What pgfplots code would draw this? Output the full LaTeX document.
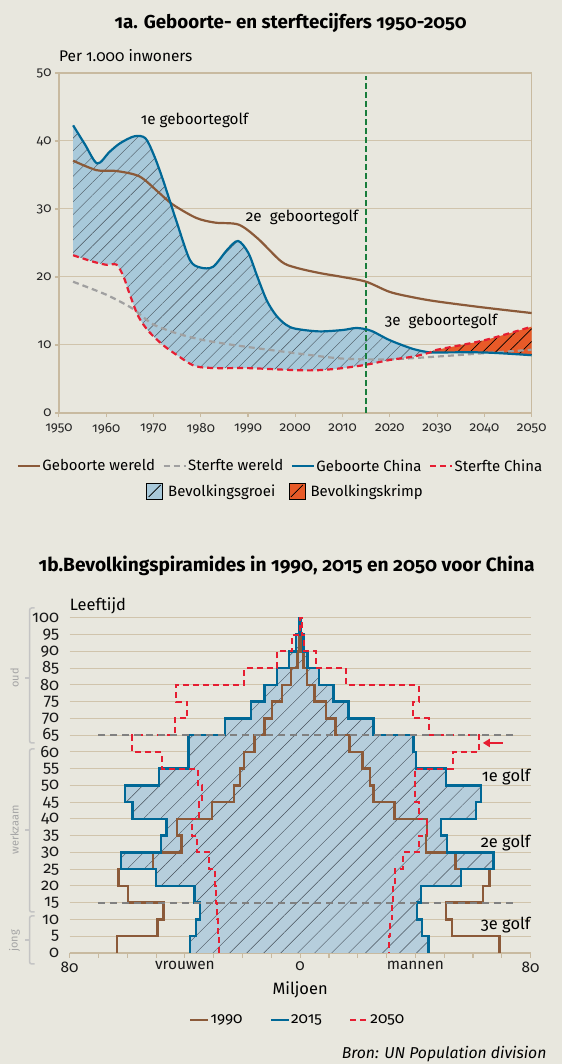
\documentclass[border=0pt]{standalone}
\usepackage{fontspec}
\setmainfont{Fira Sans}[Numbers=OldStyle]
\usepackage{pgfplots}
\pgfplotsset{compat=1.18}
\usepackage{pgfplotstable}
\usepgfplotslibrary{fillbetween}
\usetikzlibrary{patterns.meta,arrows.meta}

\definecolor{bg}{RGB}{232,231,222}
\definecolor{tanc}{RGB}{200,186,160}
\definecolor{gridc}{RGB}{208,196,172}
\definecolor{brownc}{RGB}{139,90,57}
\definecolor{bluec}{RGB}{0,104,150}
\definecolor{redc}{RGB}{230,30,50}
\definecolor{grayc}{RGB}{160,160,160}
\definecolor{greenc}{RGB}{25,125,60}
\definecolor{fillA}{RGB}{168,201,218}
\definecolor{fillB}{RGB}{182,206,220}
\definecolor{orangec}{RGB}{232,90,40}
\definecolor{hatchc}{RGB}{70,80,90}
\definecolor{dashgray}{RGB}{128,128,128}
\definecolor{brack}{RGB}{196,196,196}
\definecolor{bracktxt}{RGB}{165,165,165}

\pgfplotstableread{
x y
1953 37.1
1958 35.7
1962 35.6
1967 34.8
1971 32.5
1974 30.7
1979 28.7
1983 28.0
1988 27.7
1992 25.7
1997 22.3
2000 21.4
2005 20.6
2010 20.0
2015 19.3
2020 17.8
2025 17.0
2030 16.4
2040 15.5
2050 14.7
}\gebw

\pgfplotstableread{
x y
1953 19.3
1960 17.4
1965 15.6
1967 14.6
1970 13.0
1975 11.7
1980 10.8
1985 10.2
1990 9.7
2000 8.8
2010 8.0
2020 7.9
2030 8.3
2040 8.8
2050 9.3
}\sterw

\pgfplotstableread{
x y
1953.0 42.3
1955.5 39.5
1958.1 36.7
1960.7 38.4
1963.0 39.7
1966.0 40.7
1968.3 40.4
1970.1 37.9
1972.0 34.3
1975.0 27.9
1977.7 22.5
1979.9 21.4
1982.6 21.5
1985.6 24.0
1987.9 25.3
1990.1 23.5
1992 20.0
1994 16.5
1996 14.3
1998 13.0
2000 12.4
2005 12.0
2010 12.2
2013 12.5
2016 12.1
2020 10.7
2025 9.4
2028.5 8.9
2030 8.9
2040 8.9
2050 8.5
}\gebc

\pgfplotstableread{
x y
1953 23.2
1957 22.3
1960 21.8
1962.2 21.8
1963.7 20.0
1964.9 17.6
1966.8 14.2
1969.0 12.0
1972.0 10.0
1975.0 8.5
1978.8 6.9
1983.3 6.6
1990 6.6
2000 6.3
2005 6.3
2010 6.6
2015 7.1
2020 7.8
2025 8.3
2028.5 8.9
2030 9.3
2040 10.7
2050 12.7
}\stc

\begin{document}
\pagecolor{bg}
\begin{tikzpicture}

% ---------------- titles ----------------
\node[font=\fontsize{18.8}{21}\selectfont\bfseries] at (288bp,1041bp) {1a. Geboorte- en sterftecijfers 1950-2050};
\node[font=\fontsize{19.2}{21}\selectfont\bfseries] at (284bp,498bp) {1b.Bevolkingspiramides in 1990, 2015 en 2050 voor China};

% ---------------- chart 1a ----------------
\begin{axis}[
  at={(56.3bp,651bp)}, anchor=south west,
  scale only axis, width=472.7bp, height=340bp,
  xmin=1950, xmax=2050, ymin=0, ymax=50,
  xtick={1950,1960,...,2050}, ytick={0,10,...,50},
  axis line style={draw=tanc, line width=1.3bp},
  tick style={draw=tanc, line width=1.1bp},
  tick align=outside, major tick length=4bp,
  xtick pos=lower, ytick pos=left,
  ymajorgrids, grid style={draw=gridc, line width=1bp},
  /pgf/number format/assume math mode=true,
  /pgf/number format/1000 sep={},
  tick label style={font=\fontsize{13.5}{14}\selectfont, text=black!85},
  xticklabel style={yshift=-3bp},
  ylabel={Per 1.000 inwoners},
  ylabel style={rotate=-90, at={(axis description cs:0,1)}, anchor=west, inner sep=0pt, yshift=17bp, font=\fontsize{15.5}{17}\selectfont},
  clip=false,
  legend columns=4,
  legend style={at={(axis description cs:0.5,0)}, anchor=center, yshift=-53bp, xshift=-15bp,
    draw=none, fill=none, font=\fontsize{15}{17}\selectfont,
    nodes={inner sep=1.5bp},
    /tikz/every even column/.append style={column sep=6bp}},
  legend image code/.code={\draw[#1, line width=2.2bp] (0bp,0bp) -- (22bp,0bp);},
]
\addplot[name path=GCa, draw=none, smooth, forget plot, restrict x to domain=1950:2028.5] table {\gebc};
\addplot[name path=SCa, draw=none, smooth, forget plot, restrict x to domain=1950:2028.5] table {\stc};
\addplot[name path=GCb, draw=none, smooth, forget plot, restrict x to domain=2028.5:2050] table {\gebc};
\addplot[name path=SCb, draw=none, smooth, forget plot, restrict x to domain=2028.5:2050] table {\stc};
\addplot[fill=fillA, draw=none, forget plot, postaction={pattern={Lines[angle=45,distance=9bp,line width=0.4bp]}, pattern color=hatchc}]
  fill between[of=GCa and SCa];
\addplot[fill=orangec, draw=none, forget plot, postaction={pattern={Lines[angle=45,distance=9bp,line width=0.6bp]}, pattern color=black}]
  fill between[of=SCb and GCb];

\addplot[greenc, line width=1.6bp, dash pattern=on 6bp off 3bp, forget plot] coordinates {(2015,0) (2015,49.5)};

\addplot[brownc, line width=2.2bp, smooth] table {\gebw};
\addlegendentry{Geboorte wereld}
\addplot[grayc, line width=2.2bp, dash pattern=on 6bp off 4bp, smooth] table {\sterw};
\addlegendentry{Sterfte wereld}
\addplot[bluec, line width=2.2bp, smooth] table {\gebc};
\addlegendentry{Geboorte China}
\addplot[redc, line width=2.2bp, dash pattern=on 6bp off 4bp, smooth] table {\stc};
\addlegendentry{Sterfte China}

\node[anchor=west, inner sep=0pt, font=\fontsize{15.3}{17}\selectfont] at (axis cs:1967.3,43.1) {1e geboortegolf};
\node[anchor=west, inner sep=0pt, font=\fontsize{15.3}{17}\selectfont] at (axis cs:1989.5,28.8) {2e\ \ geboortegolf};
\node[anchor=west, inner sep=0pt, font=\fontsize{15.3}{17}\selectfont] at (axis cs:2018.9,13.4) {3e\ \ geboortegolf};
\end{axis}

% legend row 2 of chart 1a
\begin{axis}[
  at={(56.3bp,651bp)}, anchor=south west,
  scale only axis, width=472.7bp, height=340bp,
  hide axis, xmin=0, xmax=1, ymin=0, ymax=1,
  legend columns=2,
  legend style={at={(axis description cs:0.5,0)}, anchor=center, yshift=-78bp, xshift=-10bp,
    draw=none, fill=none, font=\fontsize{15}{17}\selectfont,
    nodes={inner sep=1.5bp},
    /tikz/every even column/.append style={column sep=12bp}},
  legend image code/.code={\fill[#1] (0bp,-8bp) rectangle (16bp,8bp); \draw[black, line width=0.7bp] (2bp,-6bp) -- (14bp,6bp);},
]
\addlegendimage{fill=fillA}
\addlegendentry{\ Bevolkingsgroei}
\addlegendimage{fill=orangec}
\addlegendentry{\ Bevolkingskrimp}
\end{axis}

% ---------------- chart 1b ----------------
\begin{axis}[
  at={(67bp,111bp)}, anchor=south west,
  scale only axis, width=461bp, height=335bp,
  xmin=-80, xmax=80, ymin=0, ymax=100,
  axis x line*=bottom, axis y line*=left,
  x axis line style={-, draw=tanc, line width=1.3bp},
  y axis line style={draw=none},
  xtick={-80,-70,...,80},
  xticklabels={80,,,,vrouwen,,,,0,,,,mannen,,,,80},
  ytick={0,5,...,100},
  xtick style={draw=tanc, line width=1.1bp},
  ytick style={draw=none},
  tick align=outside, major tick length=5bp,
  ymajorgrids, grid style={draw=gridc, line width=1bp},
  /pgf/number format/assume math mode=true,
  xticklabel style={font=\fontsize{15.5}{16}\selectfont, text=black!90},
  yticklabel style={font=\fontsize{16.5}{17}\selectfont, text=black!90, xshift=-2bp},
  ylabel={Leeftijd},
  ylabel style={rotate=-90, at={(axis description cs:0,1)}, anchor=base west, inner sep=0pt, yshift=7bp, font=\fontsize{16.5}{18}\selectfont},
  xlabel={Miljoen},
  xlabel style={at={(axis description cs:0.5,0)}, anchor=center, yshift=-37bp, inner sep=0pt, font=\fontsize{16.5}{18}\selectfont},
  clip=false,
  legend columns=3,
  legend style={at={(axis description cs:0.5,0)}, anchor=center, yshift=-67bp, xshift=-3bp,
    draw=none, fill=none, font=\fontsize{15.5}{17}\selectfont,
    nodes={inner sep=1bp},
    /tikz/every even column/.append style={column sep=26bp}},
  legend image code/.code={\draw[#1, line width=2.5bp] (0bp,0bp) -- (18bp,0bp);},
]
% 2015 filled area
\addplot[fill=fillB, draw=none, forget plot, postaction={pattern={Lines[angle=45,distance=12bp,line width=0.45bp]}, pattern color=hatchc}] coordinates {
(-38.3,0)(-38.3,5)(-36.2,5)(-36.2,10)(-34.8,10)(-34.8,15)(-36.7,15)(-36.7,20)(-50.1,20)(-50.1,25)(-62.2,25)(-62.2,30)(-48.3,30)(-48.3,35)(-46.4,35)(-46.4,40)(-58.2,40)(-58.2,45)(-60.7,45)(-60.7,50)(-48.9,50)(-48.9,55)(-38.7,55)(-38.7,60)(-38.7,65)(-26.0,65)(-26.0,70)(-17.1,70)(-17.1,75)(-12.4,75)(-12.4,80)(-8.1,80)(-8.1,85)(-3.8,85)(-3.8,90)(-1.5,90)(-1.5,95)(-0.3,95)(-0.3,100)
(0.3,100)(0.3,95)(1.2,95)(1.2,90)(2.6,90)(2.6,85)(6.5,85)(6.5,80)(11.6,80)(11.6,75)(16.8,75)(16.8,70)(25.4,70)(25.4,65)(39.3,65)(39.3,60)(40.2,60)(40.2,55)(50.6,55)(50.6,50)(62.8,50)(62.8,45)(61.0,45)(61.0,40)(48.9,40)(48.9,35)(50.9,35)(50.9,30)(67.1,30)(67.1,25)(55.8,25)(55.8,20)(42.0,20)(42.0,15)(40.5,15)(40.5,10)(42.3,10)(42.3,5)(44.6,5)(44.6,0)
} -- cycle;

% 1990
\addplot[brownc, line width=2.5bp] coordinates {
(-63.6,0)(-63.6,5)(-49.5,5)(-49.5,10)(-47.4,10)(-47.4,15)(-59.8,15)(-59.8,20)(-63.0,20)(-63.0,25)(-51.0,25)(-51.0,30)(-41.1,30)(-41.1,35)(-42.8,35)(-42.8,40)(-30.6,40)(-30.6,45)(-22.9,45)(-22.9,50)(-20.9,50)(-20.9,55)(-19.4,55)(-19.4,60)(-15.9,60)(-15.9,65)(-12.4,65)(-12.4,70)(-9.8,70)(-9.8,75)(-6.3,75)(-6.3,80)(-3.2,80)(-3.2,85)(-0.9,85)(-0.9,90)(-0.3,90)(-0.3,95)(-0.1,95)(-0.1,100)
(0.1,100)(0.1,95)(0.3,95)(0.3,90)(1.1,90)(1.1,85)(2.3,85)(2.3,80)(4.9,80)(4.9,75)(9.0,75)(9.0,70)(12.2,70)(12.2,65)(17.1,65)(17.1,60)(21.6,60)(21.6,55)(24.2,55)(24.2,50)(25.4,50)(25.4,45)(32.7,45)(32.7,40)(44.0,40)(44.0,35)(43.7,35)(43.7,30)(53.9,30)(53.9,25)(65.7,25)(65.7,20)(63.4,20)(63.4,15)(50.6,15)(50.6,10)(52.7,10)(52.7,5)(69.2,5)(69.2,0)
};
\addlegendentry{1990}
% 2015
\addplot[bluec, line width=2.5bp] coordinates {
(-38.3,0)(-38.3,5)(-36.2,5)(-36.2,10)(-34.8,10)(-34.8,15)(-36.7,15)(-36.7,20)(-50.1,20)(-50.1,25)(-62.2,25)(-62.2,30)(-48.3,30)(-48.3,35)(-46.4,35)(-46.4,40)(-58.2,40)(-58.2,45)(-60.7,45)(-60.7,50)(-48.9,50)(-48.9,55)(-38.7,55)(-38.7,60)(-38.7,65)(-26.0,65)(-26.0,70)(-17.1,70)(-17.1,75)(-12.4,75)(-12.4,80)(-8.1,80)(-8.1,85)(-3.8,85)(-3.8,90)(-1.5,90)(-1.5,95)(-0.3,95)(-0.3,100)
(0.3,100)(0.3,95)(1.2,95)(1.2,90)(2.6,90)(2.6,85)(6.5,85)(6.5,80)(11.6,80)(11.6,75)(16.8,75)(16.8,70)(25.4,70)(25.4,65)(39.3,65)(39.3,60)(40.2,60)(40.2,55)(50.6,55)(50.6,50)(62.8,50)(62.8,45)(61.0,45)(61.0,40)(48.9,40)(48.9,35)(50.9,35)(50.9,30)(67.1,30)(67.1,25)(55.8,25)(55.8,20)(42.0,20)(42.0,15)(40.5,15)(40.5,10)(42.3,10)(42.3,5)(44.6,5)(44.6,0)
};
\addlegendentry{2015}
% 2050
\addplot[redc, line width=2bp, dash pattern=on 6bp off 4bp] coordinates {
(-28.1,0)(-28.1,5)(-28.6,5)(-28.6,10)(-28.8,10)(-28.8,15)(-29.3,15)(-29.3,20)(-29.6,20)(-29.6,25)(-31.5,25)(-31.5,30)(-35.9,30)(-35.9,35)(-37.6,35)(-37.6,40)(-35.0,40)(-35.0,45)(-33.9,45)(-33.9,50)(-35.6,50)(-35.6,55)(-48.0,55)(-48.0,60)(-58.2,60)(-58.2,65)(-43.5,65)(-43.5,70)(-39.1,70)(-39.1,75)(-43.1,75)(-43.1,80)(-19.4,80)(-19.4,85)(-8.1,85)(-8.1,90)(-2.8,90)(-2.8,95)(-0.2,95)(-0.2,100)
(0.6,100)(0.6,95)(1.4,95)(1.4,90)(5.5,90)(5.5,85)(15.9,85)(15.9,80)(41.1,80)(41.1,75)(39.1,75)(39.1,70)(44.8,70)(44.8,65)(62.0,65)(62.0,60)(53.0,60)(53.0,55)(40.0,55)(40.0,45)(41.1,45)(41.1,40)(43.9,40)(43.9,35)(41.1,35)(41.1,30)(35.6,30)(35.6,25)(33.0,25)(33.0,20)(32.4,20)(32.4,15)(31.9,15)(31.9,10)(31.2,10)(31.2,5)(31.0,5)(31.0,0)
};
\addlegendentry{2050}

\addplot[dashgray, line width=2bp, dash pattern=on 7bp off 5bp, forget plot] coordinates {(-70,65) (75,65)};
\addplot[dashgray, line width=2bp, dash pattern=on 7bp off 5bp, forget plot] coordinates {(-70,15) (75,15)};

\draw[redc, line width=1.8bp, -{Triangle[length=7bp,width=8bp]}] (axis cs:70.3,62.7) -- (axis cs:63.4,62.7);

\node[anchor=east, inner sep=0pt, font=\fontsize{16.5}{18}\selectfont] at (axis cs:80,52.5) {1e golf};
\node[anchor=east, inner sep=0pt, font=\fontsize{16.5}{18}\selectfont] at (axis cs:80,32.8) {2e golf};
\node[anchor=east, inner sep=0pt, font=\fontsize{16.5}{18}\selectfont] at (axis cs:80,8.4) {3e golf};
\end{axis}

% brackets
\draw[brack, line width=1.5bp, rounded corners=2bp] (32bp,456bp) -- (27bp,456bp) -- (27bp,321bp) -- (32bp,321bp);
\draw[brack, line width=1.5bp] (27bp,386bp) -- (22bp,386bp);
\draw[brack, line width=1.5bp, rounded corners=2bp] (32bp,315bp) -- (27bp,315bp) -- (27bp,152bp) -- (32bp,152bp);
\draw[brack, line width=1.5bp] (27bp,234bp) -- (22bp,234bp);
\draw[brack, line width=1.5bp, rounded corners=2bp] (32bp,148bp) -- (27bp,148bp) -- (27bp,100bp) -- (32bp,100bp);
\draw[brack, line width=1.5bp] (27bp,124bp) -- (22bp,124bp);
\node[rotate=90, text=bracktxt, font=\fontsize{11}{12}\selectfont] at (12bp,386bp) {oud};
\node[rotate=90, text=bracktxt, font=\fontsize{11}{12}\selectfont] at (12bp,234bp) {werkzaam};
\node[rotate=90, text=bracktxt, font=\fontsize{11}{12}\selectfont] at (12bp,123bp) {jong};

% source
\node[anchor=east, inner sep=0pt, font=\fontsize{15.8}{18}\selectfont\itshape] at (544bp,10bp) {Bron: UN Population division};

\pgfresetboundingbox
\path (0bp,0bp) rectangle (559bp,1064bp);
\end{tikzpicture}
\end{document}
